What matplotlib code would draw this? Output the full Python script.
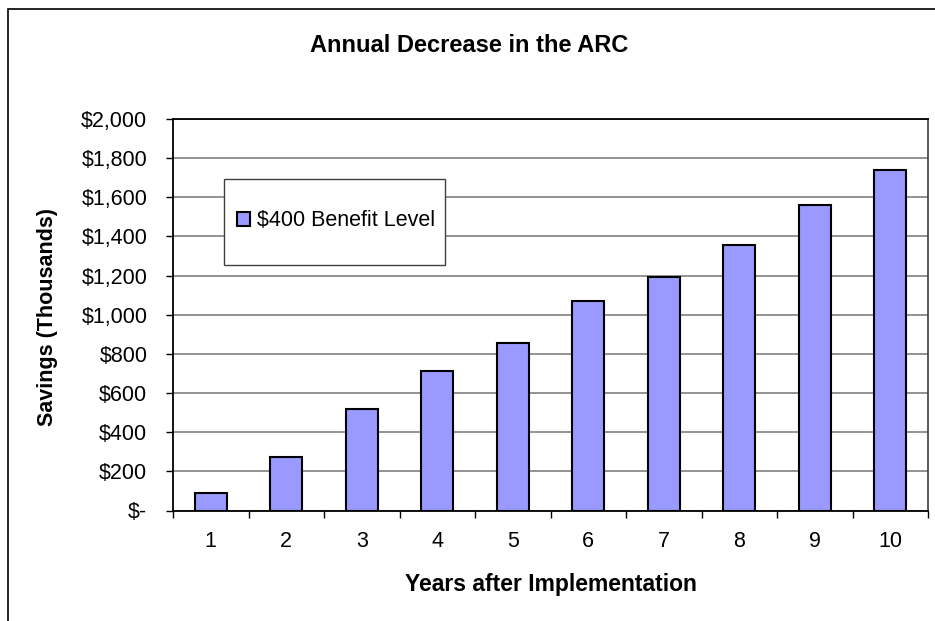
import matplotlib
matplotlib.use("Agg")
import matplotlib.pyplot as plt
from matplotlib.patches import Rectangle
from matplotlib.ticker import FuncFormatter, FixedLocator

plt.rcParams['font.family'] = ['Liberation Sans', 'DejaVu Sans']

years = [1, 2, 3, 4, 5, 6, 7, 8, 9, 10]
savings = [91, 275, 519, 715, 858, 1072, 1194, 1358, 1563, 1738]
series_name = "$400 Benefit Level"
title = "Annual Decrease in the ARC"
xlabel = "Years after Implementation"
ylabel = "Savings (Thousands)"
yticks = [0, 200, 400, 600, 800, 1000, 1200, 1400, 1600, 1800, 2000]

W, H = 935, 621
fig = plt.figure(figsize=(W / 100, H / 100), dpi=100)
fig.patch.set_facecolor('white')

# outer chart border (only top and left visible in reference)
fig.patches.append(Rectangle((8 / W, -0.1), 1.2, 1.1 - 9 / H, transform=fig.transFigure,
                             fill=False, edgecolor='black', linewidth=1.2, zorder=0))

ax_left, ax_right, ax_top, ax_bottom = 173, 928, 119, 510.5
ax = fig.add_axes([ax_left / W, (H - ax_bottom) / H, (ax_right - ax_left) / W, (ax_bottom - ax_top) / H])
ax.bar(years, savings, width=0.43, color='#9999FF', edgecolor='black', linewidth=1.5,
       zorder=3, label=series_name)

ax.set_xlim(0.5, 10.5)
ax.set_ylim(0, 2000)
ax.set_yticks(yticks)
ax.yaxis.set_major_formatter(FuncFormatter(lambda v, p: "$-" if v == 0 else "${:,.0f}".format(v)))
ax.yaxis.grid(True, color='#808080', linewidth=1.2, zorder=1)
ax.set_axisbelow(True)

# x ticks at category boundaries, labels at centers
ax.xaxis.set_major_locator(FixedLocator([x + 0.5 for x in [0] + years]))
ax.xaxis.set_major_formatter(FuncFormatter(lambda v, p: ""))
ax.xaxis.set_minor_locator(FixedLocator(years))
ax.set_xticklabels([str(y) for y in years], minor=True)
ax.tick_params(axis='x', which='major', direction='out', length=5, width=1, color='black')
ax.tick_params(axis='x', which='minor', length=0, pad=15, labelsize=15.5)
ax.tick_params(axis='y', direction='out', length=5, width=1, color='black', pad=13.5, labelsize=15.5)

for s in ['left', 'bottom', 'top']:
    ax.spines[s].set_color('black')
    ax.spines[s].set_linewidth(1.3)
ax.spines['right'].set_color('#404040')
ax.spines['right'].set_linewidth(1.2)

fig.text(469.5 / W, 1 - 45 / H, title, ha='center', va='center', fontsize=17, fontweight='bold')
fig.text(551 / W, 1 - 584 / H, xlabel, ha='center', va='center', fontsize=16.5, fontweight='bold')
fig.text(48 / W, 1 - 317 / H, ylabel, ha='center', va='center', rotation=90, fontsize=15.5,
         fontweight='bold')

# legend box (drawn manually) + frameless legend
def ax_xy(px, py):
    return ((px - ax_left) / (ax_right - ax_left), (ax_bottom - py) / (ax_bottom - ax_top))

x0, y0 = ax_xy(224, 265)
x1, y1 = ax_xy(445, 179)
ax.add_patch(Rectangle((x0, y0), x1 - x0, y1 - y0, transform=ax.transAxes, facecolor='white',
                       edgecolor='#404040', linewidth=1.0, zorder=4))
lx, ly = ax_xy(237, 221)
leg = ax.legend(loc='center left', bbox_to_anchor=(lx, ly), frameon=False, fontsize=15.5,
                handlelength=0.6, handleheight=0.6, borderpad=0, borderaxespad=0,
                handletextpad=0.35)
leg.set_zorder(5)

fig.savefig("out.png", dpi=100, facecolor='white')
